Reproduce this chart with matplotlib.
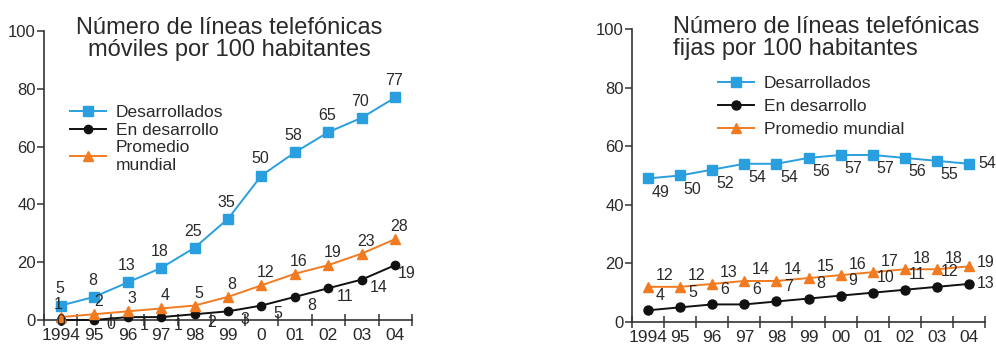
import matplotlib
matplotlib.use("Agg")
import matplotlib.pyplot as plt

plt.rcParams['font.family'] = ['Liberation Sans', 'DejaVu Sans']

# ---- data ----
years_mob = ["1994", "95", "96", "97", "98", "99", "0", "01", "02", "03", "04"]
years_fij = ["1994", "95", "96", "97", "98", "99", "00", "01", "02", "03", "04"]

mob_desarrollados = [5, 8, 13, 18, 25, 35, 50, 58, 65, 70, 77]
mob_en_desarrollo = [0, 0, 1, 1, 2, 3, 5, 8, 11, 14, 19]
mob_promedio = [1, 2, 3, 4, 5, 8, 12, 16, 19, 23, 28]

fij_desarrollados = [49, 50, 52, 54, 54, 56, 57, 57, 56, 55, 54]
fij_en_desarrollo = [4, 5, 6, 6, 7, 8, 9, 10, 11, 12, 13]
fij_promedio = [12, 12, 13, 14, 14, 15, 16, 17, 18, 18, 19]

title_mob = "Número de líneas telefónicas\nmóviles por 100 habitantes"
title_fij = "Número de líneas telefónicas\nfijas por 100 habitantes"
series_names = ["Desarrollados", "En desarrollo", "Promedio mundial"]

BLUE = "#2a9fdf"
BLACK = "#111111"
ORANGE = "#f27b22"
TXT = "#2a2a2a"

W, H = 996, 347
fig = plt.figure(figsize=(W / 100, H / 100), dpi=100)


def px_axes(x0, x1, y0, y1):
    return fig.add_axes([x0 / W, 1 - y0 / H, (x1 - x0) / W, (y0 - y1) / H])


def style_axes(ax, labels, xpad):
    n = len(labels)
    ax.set_xlim(-0.5, n - 0.5)
    ax.set_ylim(0, 100)
    for s in ["top", "right"]:
        ax.spines[s].set_visible(False)
    for s in ["left", "bottom"]:
        ax.spines[s].set_color("#333333")
        ax.spines[s].set_linewidth(1.2)
    ax.set_yticks(range(0, 101, 20))
    ax.tick_params(axis="y", direction="out", length=5, width=1.1, pad=1,
                   labelsize=12, colors="#333333", labelcolor=TXT)
    ax.set_xticks(range(n))
    ax.set_xticklabels(labels)
    ax.set_xticks([i - 0.5 for i in range(n + 1)], minor=True)
    ax.tick_params(axis="x", which="major", length=0, pad=xpad, labelsize=12.5,
                   labelcolor=TXT)
    ax.tick_params(axis="x", which="minor", direction="inout", length=8, width=1.1,
                   colors="#333333")
    ax.patch.set_alpha(0)


def plot_series(ax, xs, ys, color, marker, ms, label):
    ax.plot(xs, ys, color=color, marker=marker, markersize=ms, linewidth=1.4,
            label=label, clip_on=False, zorder=3)


def label_series(ax, xs, ys, offsets, size=11.5):
    for x, y, off in zip(xs, ys, offsets):
        ax.annotate(str(y), (x, y), xytext=off, textcoords="offset points",
                    ha="center", va="center", fontsize=size, color=TXT, zorder=4)


# ---- left chart: mobile ----
axL = px_axes(44, 412, 320, 31)
xs = list(range(len(years_mob)))
plot_series(axL, xs, mob_desarrollados, BLUE, "s", 7, series_names[0])
plot_series(axL, xs, mob_en_desarrollo, BLACK, "o", 6, series_names[1])
plot_series(axL, xs, mob_promedio, ORANGE, "^", 7.5, "Promedio\nmundial")
style_axes(axL, years_mob, 6)

label_series(axL, xs, mob_desarrollados, [(-1, 12)] * len(xs))
label_series(axL, xs, mob_promedio, [(-2, 9)] + [(3, 9)] * (len(xs) - 1))
label_series(axL, xs, mob_en_desarrollo, [(0, -1), (12, -3)] + [(12, -6)] * (len(xs) - 3) + [(8, -6)])

legL = axL.legend(loc="upper left", bbox_to_anchor=(0.07, 0.745), frameon=False,
                  fontsize=12.5, handlelength=2.1, handletextpad=0.55,
                  labelspacing=0.15, borderpad=0, borderaxespad=0)
for t in legL.get_texts():
    t.set_color(TXT)

fig.text(229 / W, 1 - 17 / H, title_mob, ha="center", va="top", fontsize=17,
         color=TXT, linespacing=1.0, multialignment="center")

# ---- right chart: fixed ----
axR = px_axes(632, 985, 322, 29)
xs = list(range(len(years_fij)))
plot_series(axR, xs, fij_desarrollados, BLUE, "s", 7, series_names[0])
plot_series(axR, xs, fij_en_desarrollo, BLACK, "o", 6.5, series_names[1])
plot_series(axR, xs, fij_promedio, ORANGE, "^", 7.5, series_names[2])
style_axes(axR, years_fij, 6)

n = len(xs)
label_series(axR, xs, fij_desarrollados, [(9, -10)] * (n - 1) + [(13, 0)])
label_series(axR, xs, fij_promedio, [(12, 8)] * (n - 1) + [(12, 3)])
label_series(axR, xs, fij_en_desarrollo, [(9, 11)] * (n - 1) + [(12, 0)])

legR = axR.legend(loc="upper left", bbox_to_anchor=(0.243, 0.84), frameon=False,
                  fontsize=12.5, handlelength=2.1, handletextpad=0.55,
                  labelspacing=0.45, borderpad=0, borderaxespad=0)
for t in legR.get_texts():
    t.set_color(TXT)

fig.text(673 / W, 1 - 16 / H, title_fij, ha="left", va="top", fontsize=17,
         color=TXT, linespacing=1.0, multialignment="left")

fig.savefig("out.png", dpi=100)
